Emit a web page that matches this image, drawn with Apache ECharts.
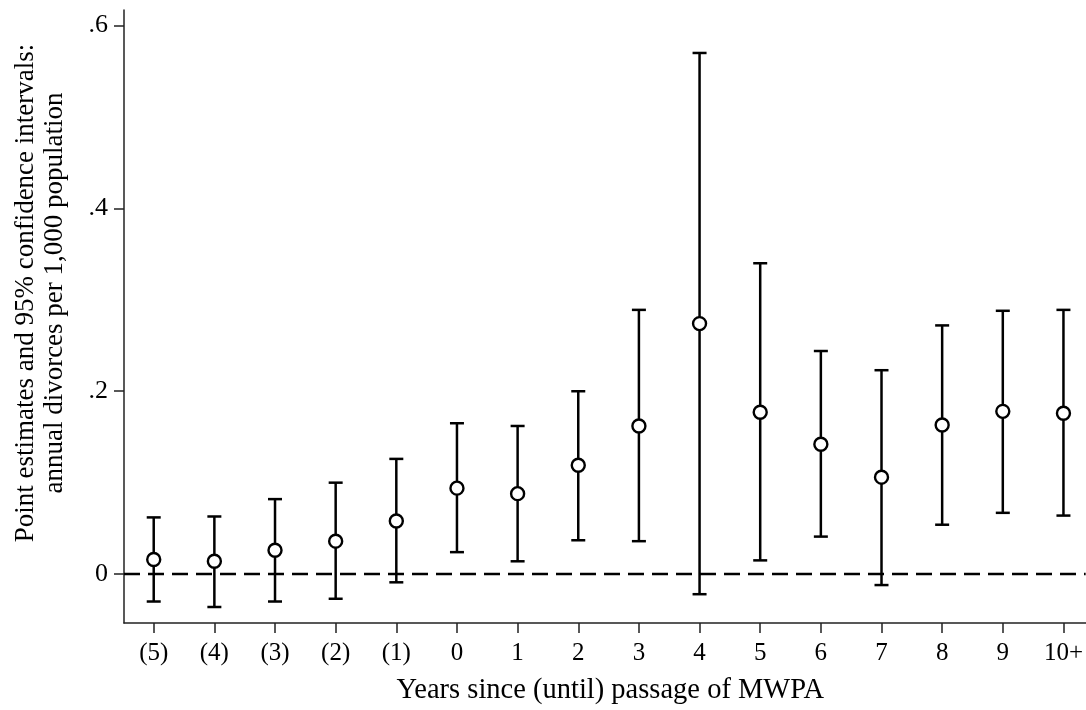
<!DOCTYPE html>
<html>
<head>
<meta charset="utf-8">
<script src="https://cdn.jsdelivr.net/npm/echarts@6/dist/echarts.min.js"></script>
<style>
  html, body { margin: 0; padding: 0; background: #fff; }
  #chart { width: 1086px; height: 710px; }
</style>
</head>
<body>
<div id="chart"></div>
<script>
const categories = ['(5)', '(4)', '(3)', '(2)', '(1)', '0', '1', '2', '3', '4', '5', '6', '7', '8', '9', '10+'];
const estimates = [0.016, 0.014, 0.026, 0.036, 0.058, 0.094, 0.088, 0.119, 0.162, 0.274, 0.177, 0.142, 0.106, 0.163, 0.178, 0.176];
const lower = [-0.030, -0.036, -0.030, -0.027, -0.009, 0.024, 0.014, 0.037, 0.036, -0.022, 0.015, 0.041, -0.012, 0.054, 0.067, 0.064];
const upper = [0.062, 0.063, 0.082, 0.100, 0.126, 0.165, 0.162, 0.200, 0.289, 0.570, 0.340, 0.244, 0.223, 0.272, 0.288, 0.289];
const yTicks = [0, 0.2, 0.4, 0.6];

const font = 'Liberation Serif';
const ink = '#000';

const myChart = echarts.init(document.getElementById('chart'));

// positions on the x axis are the category indexes
const xTicks = categories.map((c, i) => i);
const points = categories.map((c, i) => [i, estimates[i]]);
const intervals = categories.map((c, i) => [i, lower[i], upper[i]]);

const option = {
  animation: false,
  backgroundColor: '#fff',
  grid: {
    left: 124,
    right: 0,
    top: 10,
    bottom: 85
  },
  xAxis: {
    type: 'value',
    min: -0.49,
    max: 15.366,   // axis runs off the right edge like the original
    name: 'Years since (until) passage of MWPA',
    nameLocation: 'middle',
    nameGap: 53,
    nameTextStyle: { fontFamily: font, fontSize: 28.5, color: ink, padding: [0, 0, 0, 11] },
    axisLine: { onZero: false, lineStyle: { color: '#222', width: 1.5 } },
    axisTick: { length: 10, customValues: xTicks, lineStyle: { color: '#222', width: 1.5 } },
    axisLabel: {
      fontFamily: font, fontSize: 25, color: ink, margin: 18,
      customValues: xTicks,
      formatter: v => categories[v]
    },
    splitLine: { show: false }
  },
  yAxis: {
    type: 'value',
    min: -0.0535,
    max: 0.617,
    axisLine: { show: true, onZero: false, lineStyle: { color: '#222', width: 1.5 } },
    axisTick: { show: true, length: 10, customValues: yTicks, lineStyle: { color: '#222', width: 1.5 } },
    axisLabel: {
      fontFamily: font, fontSize: 26, color: ink, margin: 16,
      customValues: yTicks,
      formatter: v => v === 0 ? '0' : String(v).replace(/^0/, '')
    },
    splitLine: { show: false }
  },
  graphic: [{
    type: 'text',
    x: 40,
    y: 293,
    rotation: Math.PI / 2,
    style: {
      text: 'Point estimates and 95% confidence intervals:\nannual divorces per 1,000 population',
      font: '27px "Liberation Serif"',
      fill: ink,
      align: 'center',
      verticalAlign: 'middle',
      lineHeight: 29
    }
  }],
  series: [
    {
      type: 'custom',
      name: 'CI',
      data: intervals,
      z: 2,
      renderItem: function (params, api) {
        const x = api.value(0);
        const lo = api.coord([x, api.value(1)]);
        const hi = api.coord([x, api.value(2)]);
        const half = 7;
        const style = { stroke: ink, lineWidth: 2.5 };
        return {
          type: 'group',
          children: [
            { type: 'line', shape: { x1: lo[0], y1: lo[1], x2: hi[0], y2: hi[1] }, style: style },
            { type: 'line', shape: { x1: hi[0] - half, y1: hi[1], x2: hi[0] + half, y2: hi[1] }, style: style },
            { type: 'line', shape: { x1: lo[0] - half, y1: lo[1], x2: lo[0] + half, y2: lo[1] }, style: style }
          ]
        };
      }
    },
    {
      type: 'scatter',
      name: 'Estimate',
      data: points,
      symbol: 'circle',
      symbolSize: 13,
      z: 3,
      itemStyle: { color: '#fff', borderColor: ink, borderWidth: 2.4, opacity: 1 },
      markLine: {
        silent: true,
        symbol: 'none',
        label: { show: false },
        lineStyle: { color: ink, width: 2.4, type: [16, 8], opacity: 1 },
        data: [{ yAxis: 0 }]
      }
    }
  ]
};

myChart.setOption(option);
window.addEventListener('resize', function () {
  myChart.resize();
});
</script>
</body>
</html>
